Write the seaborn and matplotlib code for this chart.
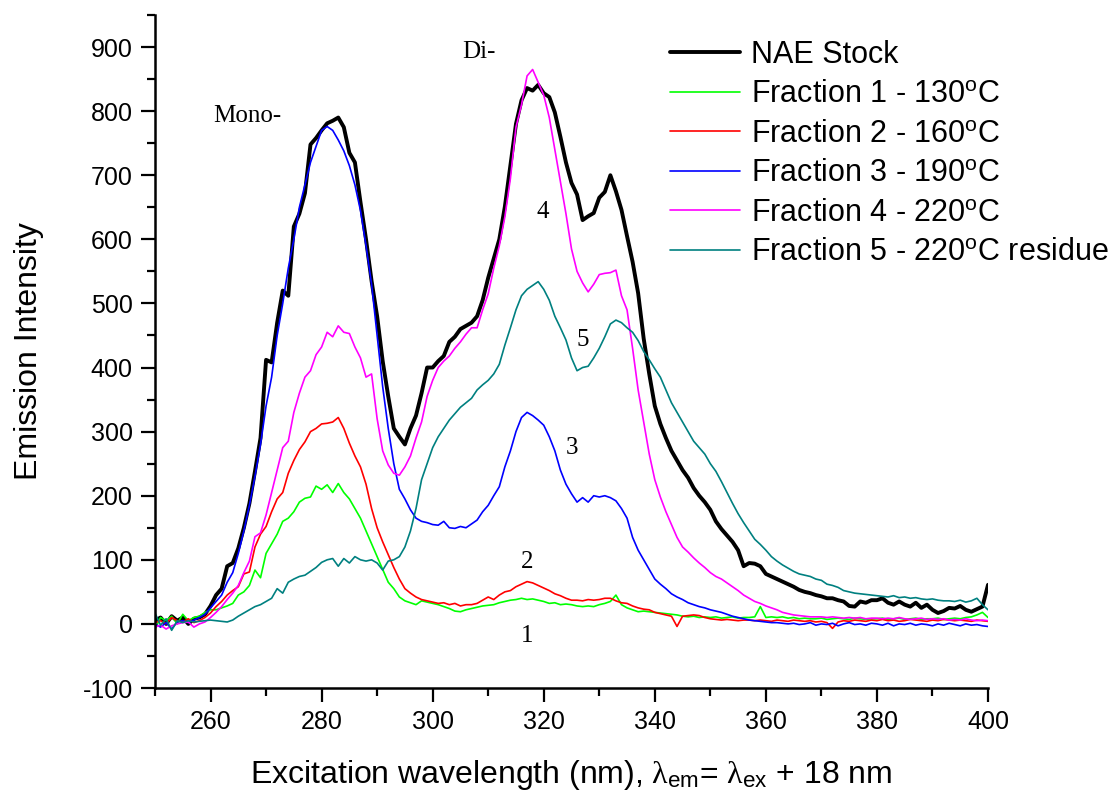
import numpy as np
import pandas as pd
import matplotlib
matplotlib.use("Agg")
import matplotlib.pyplot as plt
import seaborn as sns
from matplotlib.ticker import MultipleLocator

wavelength = list(range(250, 401))

nae_stock = [
    5, 10, 0, 12, 5, 10, 0, 8, 10, 15,
    28, 45, 55, 90, 95, 118, 150, 188, 238, 290,
    412, 408, 470, 520, 512, 620, 640, 672, 748, 758,
    770, 781, 785, 790, 775, 735, 720, 658, 600, 535,
    480, 410, 355, 305, 292, 280, 305, 325, 360, 400,
    400, 410, 418, 440, 448, 460, 465, 470, 480, 505,
    540, 570, 600, 651, 715, 780, 817, 836, 832, 841,
    828, 822, 798, 760, 720, 688, 670, 630, 636, 641,
    665, 674, 700, 675, 646, 605, 565, 516, 445, 390,
    340, 312, 290, 270, 255, 240, 228, 212, 200, 190,
    178, 160, 148, 138, 128, 115, 90, 95, 94, 90,
    78, 74, 70, 66, 62, 58, 53, 50, 48, 45,
    43, 40, 40, 37, 35, 28, 27, 35, 33, 37,
    37, 40, 33, 30, 35, 30, 27, 33, 25, 30,
    22, 17, 20, 25, 24, 28, 22, 19, 23, 27,
    61,
]

fraction1 = [
    -8, 10, 5, 12, 0, 15, 5, 10, 12, 18,
    22, 22, 25, 28, 32, 45, 50, 60, 84, 72,
    110, 125, 140, 160, 165, 175, 190, 196, 198, 215,
    210, 217, 205, 219, 205, 195, 180, 165, 145, 125,
    105, 85, 65, 55, 42, 36, 33, 30, 36, 34,
    32, 30, 27, 24, 20, 19, 22, 24, 26, 28,
    29, 30, 33, 35, 37, 38, 40, 38, 39, 37,
    35, 32, 33, 30, 31, 30, 28, 27, 28, 27,
    30, 32, 35, 45, 30, 25, 22, 19, 20, 19,
    18, 17, 16, 15, 14, 12, 11, 12, 10, 11,
    10, 11, 9, 10, 11, 9, 10, 10, 11, 27,
    10, 11, 10, 11, 9, 10, 8, 9, 8, 8,
    9, 7, 8, 9, 8, 7, 9, 8, 7, 8,
    8, 9, 7, 8, 9, 7, 8, 9, 7, 8,
    8, 9, 7, 8, 9, 8, 10, 11, 14, 18,
    10,
]

fraction2 = [
    2, 5, 0, 10, 5, 3, 8, 2, 5, 10,
    17, 27, 35, 45, 52, 58, 78, 81, 120, 140,
    152, 175, 195, 205, 235, 255, 272, 284, 300, 305,
    312, 313, 315, 322, 305, 282, 262, 245, 218, 180,
    150, 128, 108, 88, 70, 55, 48, 42, 38, 36,
    34, 32, 33, 30, 32, 28, 30, 30, 32, 37,
    42, 38, 45, 50, 52, 58, 62, 66, 64, 60,
    56, 52, 47, 44, 40, 37, 37, 36, 38, 37,
    38, 40, 40, 36, 33, 32, 28, 25, 23, 22,
    18, 16, 14, 12, -4, 12, 13, 14, 13, 10,
    8, 7, 6, 7, 6, 5, 6, 6, 5, 6,
    5, 4, 6, 5, 4, 6, 5, 4, 5, 3,
    4, 2, -7, 3, 5, 4, 6, 5, 4, 6,
    5, 7, 5, 6, 4, 5, 7, 6, 5, 4,
    6, 5, 7, 6, 5, 6, 5, 4, 6, 5,
    4,
]

fraction3 = [
    0, -5, 2, -8, 3, 5, 2, 6, 10, 15,
    25, 35, 45, 65, 80, 110, 145, 185, 230, 280,
    340, 385, 450, 500, 555, 600, 650, 685, 720, 745,
    770, 776, 770, 755, 738, 715, 685, 645, 590, 530,
    450, 370, 305, 250, 210, 195, 178, 165, 160, 158,
    155, 154, 160, 150, 149, 152, 150, 156, 162, 175,
    185, 200, 214, 245, 270, 300, 322, 330, 325, 318,
    310, 292, 270, 240, 218, 203, 190, 197, 190, 200,
    198, 200, 197, 192, 180, 165, 135, 115, 100, 85,
    70, 62, 55, 47, 42, 38, 33, 30, 27, 25,
    22, 20, 18, 15, 12, 10, 8, 6, 5, 4,
    3, 2, 2, 1, 0, 1, -1, 0, 2, -2,
    0, -1, 1, -3, 0, 2, -1, 0, -2, 1,
    0, -2, 1, -3, 0, -1, 1, -2, 0, -1,
    -3, 0, -2, 1, -1, -3, 0, -2, -1, -3,
    -4,
]

fraction4 = [
    -5, -2, -8, -3, 0, 2, 3, -5, 0, 3,
    10, 18, 27, 38, 48, 60, 80, 98, 136, 142,
    170, 205, 240, 275, 285, 330, 360, 385, 395, 420,
    432, 455, 448, 465, 455, 453, 432, 415, 385, 390,
    320, 270, 248, 235, 232, 245, 262, 290, 315, 355,
    380, 400, 410, 418, 430, 440, 452, 462, 462, 490,
    515, 555, 590, 635, 695, 775, 810, 855, 865, 845,
    825, 790, 740, 690, 640, 585, 550, 532, 518, 530,
    545, 547, 548, 552, 512, 490, 430, 365, 315, 265,
    225, 198, 175, 155, 135, 120, 112, 103, 95, 88,
    80, 74, 70, 64, 58, 52, 45, 40, 35, 32,
    28, 25, 22, 18, 16, 14, 13, 12, 11, 11,
    11, 10, 11, 10, 9, 10, 9, 10, 8, 9,
    9, 8, 9, 8, 10, 8, 7, 8, 9, 7,
    8, 7, 8, 6, 7, 6, 8, 6, 5, 6,
    5,
]

fraction5 = [
    17, -2, 8, -10, 5, 2, 5, 3, 4, 5,
    6, 5, 4, 3, 6, 12, 17, 22, 27, 30,
    35, 40, 55, 48, 65, 70, 74, 76, 82, 88,
    96, 100, 102, 90, 102, 95, 105, 100, 98, 100,
    95, 84, 98, 100, 105, 120, 145, 180, 225, 250,
    275, 292, 305, 318, 328, 338, 345, 352, 365, 373,
    380, 390, 405, 435, 462, 490, 512, 522, 528, 534,
    522, 505, 480, 462, 443, 415, 395, 400, 402, 415,
    430, 448, 468, 474, 470, 462, 455, 442, 425, 412,
    398, 385, 365, 345, 330, 315, 300, 285, 275, 265,
    250, 238, 222, 205, 188, 172, 158, 145, 132, 124,
    115, 105, 98, 92, 87, 82, 78, 76, 74, 70,
    68, 62, 60, 57, 52, 50, 48, 47, 46, 45,
    44, 43, 42, 44, 41, 42, 40, 41, 39, 38,
    39, 37, 36, 36, 35, 37, 34, 36, 40, 30,
    22,
]

series_names = [
    "NAE Stock",
    "Fraction 1 - 130$^{\\rm o}$C",
    "Fraction 2 - 160$^{\\rm o}$C",
    "Fraction 3 - 190$^{\\rm o}$C",
    "Fraction 4 - 220$^{\\rm o}$C",
    "Fraction 5 - 220$^{\\rm o}$C residue",
]
series_values = [nae_stock, fraction1, fraction2, fraction3, fraction4, fraction5]
series_colors = ["#000000", "#00ff00", "#ff0000", "#0000ff", "#ff00ff", "#008080"]
series_widths = [2.8, 1.2, 1.2, 1.2, 1.2, 1.2]

peak_labels = ["Mono-", "Di-"]
peak_label_x = [260.5, 305.3]
peak_label_y = [792, 892]
fraction_numbers = ["4", "5", "3", "2", "1"]
fraction_number_x = [319.9, 327.1, 325.1, 317.0, 317.0]
fraction_number_y = [643, 443, 275, 97, -19]

sns.set_style("ticks")
plt.rcParams["font.family"] = ["Liberation Sans", "DejaVu Sans"]
plt.rcParams["mathtext.fontset"] = "custom"
plt.rcParams["mathtext.rm"] = "Liberation Sans"
plt.rcParams["mathtext.it"] = "Liberation Serif"
plt.rcParams["mathtext.bf"] = "Liberation Sans:bold"
plt.rcParams["axes.unicode_minus"] = False
plt.rcParams["text.color"] = "black"
plt.rcParams["axes.labelcolor"] = "black"
plt.rcParams["xtick.color"] = "black"
plt.rcParams["ytick.color"] = "black"
plt.rcParams["axes.edgecolor"] = "black"

fig = plt.figure(figsize=(11.19, 7.96), dpi=100)
ax = fig.add_axes([155 / 1119, 108 / 796, (988 - 155) / 1119, (688 - 15) / 796])

for name, vals, col, lw in zip(series_names, series_values, series_colors, series_widths):
    df = pd.DataFrame({"x": wavelength, "y": vals})
    sns.lineplot(data=df, x="x", y="y", color=col, linewidth=lw, label=name,
                 ax=ax, sort=False, estimator=None)

ax.set_xlim(250, 400)
ax.set_ylim(-100, 950)
ax.xaxis.set_minor_locator(MultipleLocator(10))
ax.yaxis.set_minor_locator(MultipleLocator(50))
ax.set_xticks([260, 280, 300, 320, 340, 360, 380, 400])
ax.set_yticks(list(range(-100, 901, 100)))
ax.tick_params(axis="both", which="major", direction="out", length=10, width=1.6,
               labelsize=18, pad=6, colors="black")
ax.tick_params(axis="both", which="minor", direction="out", length=6, width=1.6,
               colors="black")
for s in ["left", "bottom"]:
    ax.spines[s].set_linewidth(1.8)
    ax.spines[s].set_color("black")
sns.despine(ax=ax, top=True, right=True)

ax.set_xlabel("Excitation wavelength (nm), $\\lambda_{\\rm em}$= $\\lambda_{\\rm ex}$ + 18 nm",
              fontsize=23, labelpad=17, color="black")
ax.set_ylabel("Emission Intensity", fontsize=23, labelpad=28, color="black")

for t, x, y in zip(peak_labels, peak_label_x, peak_label_y):
    ax.text(x, y, t, fontsize=18, family="Liberation Serif", ha="left", va="center",
            color="black")
for t, x, y in zip(fraction_numbers, fraction_number_x, fraction_number_y):
    ax.text(x, y, t, fontsize=18, family="Liberation Serif", ha="center", va="center",
            color="black")

leg = ax.legend(loc="upper left", bbox_to_anchor=(670 / 1119, 1 - 40 / 796),
                bbox_transform=fig.transFigure, frameon=False, fontsize=22,
                handlelength=2.3, handletextpad=0.35, labelspacing=0.31,
                borderaxespad=0, borderpad=0)
for txt in leg.get_texts():
    txt.set_color("black")

fig.savefig("out.png", dpi=100)
